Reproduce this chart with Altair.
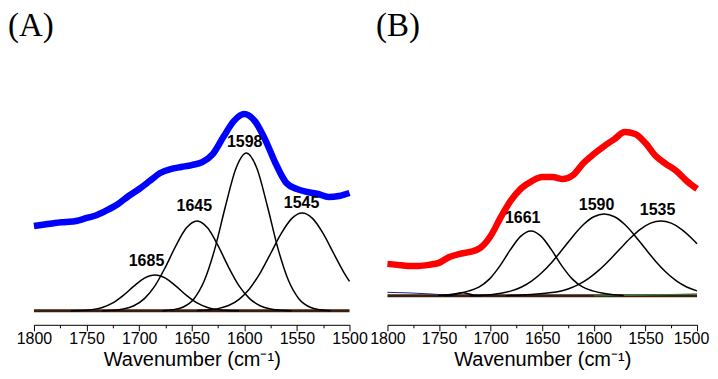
import altair as alt
import pandas as pd

# ---------------- data ----------------
wn = [1800, 1790, 1780, 1770, 1760, 1750, 1740, 1730, 1720, 1710, 1700,
      1690, 1680, 1670, 1660, 1650, 1640, 1630, 1620, 1610, 1600,
      1590, 1580, 1570, 1560, 1550, 1540, 1530, 1520, 1510, 1500]

spec_A = [85, 86.5, 88, 89, 90, 93, 96, 101, 107, 115, 122,
          130, 138, 142, 144, 146, 149, 157, 174, 190, 197,
          190, 171, 147, 128, 122, 119, 117, 114, 115, 118]

spec_B = [32, 31, 30, 30, 31, 33, 39, 42, 44, 48, 60,
          79, 96, 108, 115, 119, 119, 117, 121, 133, 142,
          150, 157, 164, 162, 153, 140, 132, 125, 115, 107]

# fitted bands, panel A
a1685_w = [1765, 1755, 1745, 1735, 1725, 1715, 1705, 1695, 1685, 1675, 1665, 1655, 1645, 1635, 1625, 1615, 1605]
a1685_h = [0.1, 0.3, 1.2, 3.4, 7.9, 15.4, 24.7, 32.8, 36, 32.8, 24.7, 15.4, 7.9, 3.4, 1.2, 0.3, 0.1]

a1645_w = [1735, 1725, 1715, 1705, 1695, 1685, 1675, 1665, 1655, 1645, 1635, 1625, 1615, 1605, 1595, 1585, 1575, 1565, 1555]
a1645_h = [0.1, 0.5, 1.8, 5.1, 12.2, 25, 43.8, 65.3, 83.1, 90, 83.1, 65.3, 43.8, 25, 12.2, 5.1, 1.8, 0.5, 0.1]

a1598_w = [1678, 1668, 1658, 1648, 1638, 1628, 1618, 1608, 1598, 1588, 1578, 1568, 1558, 1548, 1538, 1528, 1518]
a1598_h = [0.2, 1, 3.8, 11.9, 30.3, 62.3, 104.5, 142.5, 158, 142.5, 104.5, 62.3, 30.3, 11.9, 3.8, 1, 0.2]

a1545_w = [1645, 1635, 1625, 1615, 1605, 1595, 1585, 1575, 1565, 1555, 1545, 1535, 1525, 1515, 1505, 1500]
a1545_h = [0.3, 0.8, 2.2, 5.3, 11.5, 22.2, 37.8, 57.4, 77.3, 92.3, 98, 92.3, 77.3, 57.4, 37.8, 29.4]

# fitted bands, panel B
b1727_w = [1745, 1737, 1732, 1727, 1722, 1717, 1709]
b1727_h = [0, 0.8, 2.2, 3, 2.2, 0.8, 0]

b1661_w = [1751, 1741, 1731, 1721, 1711, 1701, 1691, 1681, 1671, 1661, 1651, 1641, 1631, 1621, 1611, 1601, 1591, 1581, 1571]
b1661_h = [0.3, 1, 2.5, 5, 9, 17, 30, 46, 59.6, 65, 59.6, 46, 30, 17, 9, 5, 2.5, 1, 0.3]

b1590_w = [1720, 1710, 1700, 1690, 1680, 1670, 1660, 1650, 1640, 1630, 1620, 1610, 1600, 1590,
           1580, 1570, 1560, 1550, 1540, 1530, 1520, 1510, 1500]
b1590_h = [0.2, 0.6, 1.2, 2.6, 5, 8.9, 15, 23.6, 34.5, 47.1, 60, 71.4, 79.2, 82,
           79.2, 71.4, 60, 47.1, 34.5, 23.6, 15, 8.9, 5]

b1535_w = [1685, 1675, 1665, 1655, 1645, 1635, 1625, 1615, 1605, 1595, 1585, 1575, 1565, 1555, 1545,
           1535, 1525, 1515, 1505, 1500]
b1535_h = [0.2, 0.5, 1, 1.8, 2.8, 4.2, 6.9, 11.2, 17.5, 25.7, 35.6, 46.6, 57.4, 66.6, 72.8,
           75, 72.8, 66.6, 57.4, 52.1]

b_left_w = [1800, 1780, 1760, 1745, 1735]
b_left_h = [3.5, 3, 2, 1, 0]
b_right_w = [1600, 1560, 1530, 1500]
b_right_h = [0, 0.5, 1.2, 2]

base_w = [1800, 1500]
base_h = [0, 0]

# peak labels (wavenumber, height)
lab_A_text = ["1685", "1645", "1598", "1545"]
lab_A_w = [1693, 1647.6, 1599.7, 1545.6]
lab_A_h = [45, 100, 164, 103]
lab_B_text = ["1661", "1590", "1535"]
lab_B_w = [1668.9, 1597.3, 1538.2]
lab_B_h = [73, 86, 81]

tick_vals = [1800, 1775, 1750, 1725, 1700, 1675, 1650, 1625, 1600, 1575, 1550, 1525, 1500]

# ---------------- build ----------------
FONT = "Liberation Sans"


def long(pairs):
    rows = []
    for name, ws, hs in pairs:
        for w, h in zip(ws, hs):
            rows.append({"band": name, "w": w, "h": h})
    return pd.DataFrame(rows)


def xenc(last_shift):
    return alt.X(
        "w:Q",
        scale=alt.Scale(domain=[1800, 1500], nice=False, zero=False),
        axis=alt.Axis(
            values=tick_vals,
            format="d",
            labelExpr="datum.value % 50 === 0 ? datum.label : ''",
            tickSize={"condition": {"test": "datum.value % 50 === 0", "value": 6}, "value": 3},
            labelOffset={"condition": {"test": "datum.value === 1500", "value": last_shift}, "value": 0},
            tickColor="black",
            tickWidth=1,
            domainColor="black",
            domainWidth=1,
            labelFont=FONT,
            labelFontSize=16,
            labelColor="black",
            labelPadding=0,
            labelOverlap=False,
            labelFlush=False,
            grid=False,
            title="Wavenumber (cm\u207b\u00b9)",
            titleFont=FONT,
            titleFontSize=20,
            titleFontWeight="normal",
            titleColor="black",
            titlePadding=3,
        ),
    )


def panel(spec, bands, labels, yd, width, letter, title_dx, last_shift, extras):
    X = xenc(last_shift)
    ysc = alt.Scale(domain=yd, nice=False, zero=False)
    yenc = alt.Y("h:Q", scale=ysc, axis=None)
    base = alt.Chart(pd.DataFrame({"w": base_w, "h": base_h})).mark_line(
        color="#3a1e10", strokeWidth=3
    ).encode(x=X, y=yenc)
    layers = [base]
    for df, col, sw in extras:
        layers.append(alt.Chart(df).mark_line(color=col, strokeWidth=sw, interpolate="monotone").encode(
            x=X, y=yenc))
    g = alt.Chart(long(bands)).mark_line(color="black", strokeWidth=1.5, interpolate="monotone").encode(
        x=X, y=yenc, detail="band:N")
    s = alt.Chart(pd.DataFrame({"w": wn, "h": spec[0]})).mark_line(
        color=spec[1], strokeWidth=6.5, interpolate="monotone").encode(x=X, y=yenc)
    t = alt.Chart(pd.DataFrame({"w": labels[1], "h": labels[2], "t": labels[0]})).mark_text(
        font=FONT, fontWeight="bold", fontSize=16, baseline="alphabetic", align="center", color="black"
    ).encode(x=X, y=yenc, text="t:N")
    layers += [g, s, t]
    return alt.layer(*layers).properties(
        width=width, height=268,
        title=alt.TitleParams(letter, anchor="start", frame="group", font="Liberation Serif",
                              fontSize=33, fontWeight="normal", color="black", dx=title_dx, offset=14),
    )


pA = panel((spec_A, "#0000ff"),
           [("1685", a1685_w, a1685_h), ("1645", a1645_w, a1645_h),
            ("1598", a1598_w, a1598_h), ("1545", a1545_w, a1545_h)],
           (lab_A_text, lab_A_w, lab_A_h), [-14, 254], 316, "(A)", -26, 0, [])

pB = panel((spec_B, "#ff0000"),
           [("1727", b1727_w, b1727_h), ("1661", b1661_w, b1661_h),
            ("1590", b1590_w, b1590_h), ("1535", b1535_w, b1535_h)],
           (lab_B_text, lab_B_w, lab_B_h), [-29, 239], 310, "(B)", -11.5, -6,
           [(pd.DataFrame({"w": b_left_w, "h": b_left_h}), "#1a237e", 1),
            (pd.DataFrame({"w": b_right_w, "h": b_right_h}), "#2e7d32", 1)])

chart = alt.hconcat(pA, pB, spacing=38, bounds="flush").properties(
    padding={"left": 0, "top": 2, "right": 0, "bottom": 0},
    background="white",
).configure_view(stroke=None)

chart.save("out.html", embed_options={"renderer": "svg", "actions": False})
